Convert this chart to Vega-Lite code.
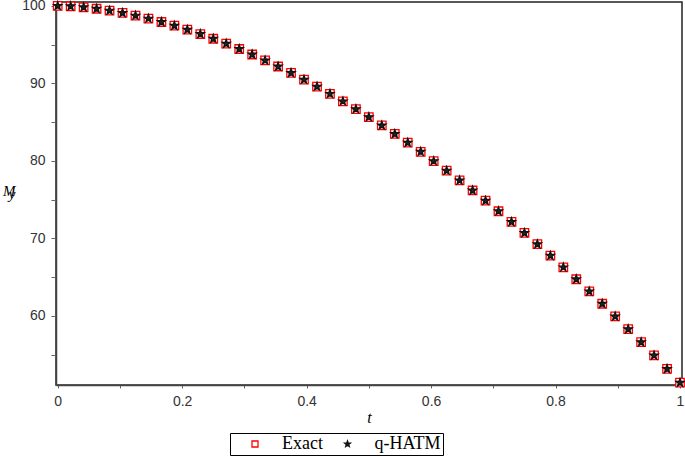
{
  "$schema": "https://vega.github.io/schema/vega-lite/v6.json",
  "width": 626,
  "height": 383,
  "autosize": {"type": "none"},
  "padding": {"left": 56, "top": 2, "right": 3, "bottom": 72},
  "background": "white",
  "config": {
    "view": {"stroke": "#222", "strokeWidth": 1.5},
    "axis": {
      "grid": false,
      "domainColor": "#444",
      "domainWidth": 1.5,
      "tickColor": "#666",
      "tickWidth": 1,
      "labelFont": "Liberation Sans",
      "labelFontSize": 14,
      "labelColor": "#333",
      "labelOverlap": false,
      "labelBound": false,
      "labelFlush": false,
      "titleFont": "Liberation Serif",
      "titleFontStyle": "italic",
      "titleFontWeight": "normal",
      "titleColor": "#000"
    },
    "legend": {
      "direction": "horizontal",
      "strokeColor": "#000",
      "strokeWidth": 1,
      "fillColor": "white",
      "padding": 2,
      "symbolSize": 36,
      "symbolStrokeWidth": 1.3,
      "symbolOffset": 14,
      "labelOffset": 18,
      "labelFont": "Liberation Serif",
      "labelFontSize": 18,
      "labelColor": "#000",
      "columnPadding": 1.5
    }
  },
  "data": {
    "values": [
      {"t": 0, "M": 100, "series": "Exact"},
      {"t": 0.0208, "M": 99.95, "series": "Exact"},
      {"t": 0.0417, "M": 99.82, "series": "Exact"},
      {"t": 0.0625, "M": 99.63, "series": "Exact"},
      {"t": 0.0833, "M": 99.39, "series": "Exact"},
      {"t": 0.1042, "M": 99.09, "series": "Exact"},
      {"t": 0.125, "M": 98.75, "series": "Exact"},
      {"t": 0.1458, "M": 98.36, "series": "Exact"},
      {"t": 0.1667, "M": 97.92, "series": "Exact"},
      {"t": 0.1875, "M": 97.45, "series": "Exact"},
      {"t": 0.2083, "M": 96.93, "series": "Exact"},
      {"t": 0.2292, "M": 96.37, "series": "Exact"},
      {"t": 0.25, "M": 95.76, "series": "Exact"},
      {"t": 0.2708, "M": 95.12, "series": "Exact"},
      {"t": 0.2917, "M": 94.44, "series": "Exact"},
      {"t": 0.3125, "M": 93.73, "series": "Exact"},
      {"t": 0.3333, "M": 92.97, "series": "Exact"},
      {"t": 0.3542, "M": 92.18, "series": "Exact"},
      {"t": 0.375, "M": 91.35, "series": "Exact"},
      {"t": 0.3958, "M": 90.49, "series": "Exact"},
      {"t": 0.4167, "M": 89.59, "series": "Exact"},
      {"t": 0.4375, "M": 88.66, "series": "Exact"},
      {"t": 0.4583, "M": 87.69, "series": "Exact"},
      {"t": 0.4792, "M": 86.69, "series": "Exact"},
      {"t": 0.5, "M": 85.65, "series": "Exact"},
      {"t": 0.5208, "M": 84.58, "series": "Exact"},
      {"t": 0.5417, "M": 83.48, "series": "Exact"},
      {"t": 0.5625, "M": 82.35, "series": "Exact"},
      {"t": 0.5833, "M": 81.18, "series": "Exact"},
      {"t": 0.6042, "M": 79.98, "series": "Exact"},
      {"t": 0.625, "M": 78.75, "series": "Exact"},
      {"t": 0.6458, "M": 77.49, "series": "Exact"},
      {"t": 0.6667, "M": 76.19, "series": "Exact"},
      {"t": 0.6875, "M": 74.87, "series": "Exact"},
      {"t": 0.7083, "M": 73.51, "series": "Exact"},
      {"t": 0.7292, "M": 72.13, "series": "Exact"},
      {"t": 0.75, "M": 70.71, "series": "Exact"},
      {"t": 0.7708, "M": 69.26, "series": "Exact"},
      {"t": 0.7917, "M": 67.78, "series": "Exact"},
      {"t": 0.8125, "M": 66.28, "series": "Exact"},
      {"t": 0.8333, "M": 64.74, "series": "Exact"},
      {"t": 0.8542, "M": 63.17, "series": "Exact"},
      {"t": 0.875, "M": 61.58, "series": "Exact"},
      {"t": 0.8958, "M": 59.95, "series": "Exact"},
      {"t": 0.9167, "M": 58.3, "series": "Exact"},
      {"t": 0.9375, "M": 56.62, "series": "Exact"},
      {"t": 0.9583, "M": 54.91, "series": "Exact"},
      {"t": 0.9792, "M": 53.17, "series": "Exact"},
      {"t": 1, "M": 51.4, "series": "Exact"},
      {"t": 0, "M": 100, "series": "q-HATM"},
      {"t": 0.0208, "M": 99.95, "series": "q-HATM"},
      {"t": 0.0417, "M": 99.82, "series": "q-HATM"},
      {"t": 0.0625, "M": 99.63, "series": "q-HATM"},
      {"t": 0.0833, "M": 99.39, "series": "q-HATM"},
      {"t": 0.1042, "M": 99.09, "series": "q-HATM"},
      {"t": 0.125, "M": 98.75, "series": "q-HATM"},
      {"t": 0.1458, "M": 98.36, "series": "q-HATM"},
      {"t": 0.1667, "M": 97.92, "series": "q-HATM"},
      {"t": 0.1875, "M": 97.45, "series": "q-HATM"},
      {"t": 0.2083, "M": 96.93, "series": "q-HATM"},
      {"t": 0.2292, "M": 96.37, "series": "q-HATM"},
      {"t": 0.25, "M": 95.76, "series": "q-HATM"},
      {"t": 0.2708, "M": 95.12, "series": "q-HATM"},
      {"t": 0.2917, "M": 94.44, "series": "q-HATM"},
      {"t": 0.3125, "M": 93.73, "series": "q-HATM"},
      {"t": 0.3333, "M": 92.97, "series": "q-HATM"},
      {"t": 0.3542, "M": 92.18, "series": "q-HATM"},
      {"t": 0.375, "M": 91.35, "series": "q-HATM"},
      {"t": 0.3958, "M": 90.49, "series": "q-HATM"},
      {"t": 0.4167, "M": 89.59, "series": "q-HATM"},
      {"t": 0.4375, "M": 88.66, "series": "q-HATM"},
      {"t": 0.4583, "M": 87.69, "series": "q-HATM"},
      {"t": 0.4792, "M": 86.69, "series": "q-HATM"},
      {"t": 0.5, "M": 85.65, "series": "q-HATM"},
      {"t": 0.5208, "M": 84.58, "series": "q-HATM"},
      {"t": 0.5417, "M": 83.48, "series": "q-HATM"},
      {"t": 0.5625, "M": 82.35, "series": "q-HATM"},
      {"t": 0.5833, "M": 81.18, "series": "q-HATM"},
      {"t": 0.6042, "M": 79.98, "series": "q-HATM"},
      {"t": 0.625, "M": 78.75, "series": "q-HATM"},
      {"t": 0.6458, "M": 77.49, "series": "q-HATM"},
      {"t": 0.6667, "M": 76.19, "series": "q-HATM"},
      {"t": 0.6875, "M": 74.87, "series": "q-HATM"},
      {"t": 0.7083, "M": 73.51, "series": "q-HATM"},
      {"t": 0.7292, "M": 72.13, "series": "q-HATM"},
      {"t": 0.75, "M": 70.71, "series": "q-HATM"},
      {"t": 0.7708, "M": 69.26, "series": "q-HATM"},
      {"t": 0.7917, "M": 67.78, "series": "q-HATM"},
      {"t": 0.8125, "M": 66.28, "series": "q-HATM"},
      {"t": 0.8333, "M": 64.74, "series": "q-HATM"},
      {"t": 0.8542, "M": 63.17, "series": "q-HATM"},
      {"t": 0.875, "M": 61.58, "series": "q-HATM"},
      {"t": 0.8958, "M": 59.95, "series": "q-HATM"},
      {"t": 0.9167, "M": 58.3, "series": "q-HATM"},
      {"t": 0.9375, "M": 56.62, "series": "q-HATM"},
      {"t": 0.9583, "M": 54.91, "series": "q-HATM"},
      {"t": 0.9792, "M": 53.17, "series": "q-HATM"},
      {"t": 1, "M": 51.4, "series": "q-HATM"}
    ]
  },
  "mark": {"type": "point", "size": 72, "strokeWidth": 1.3, "opacity": 1, "fillOpacity": 1},
  "encoding": {
    "x": {
      "field": "t",
      "type": "quantitative",
      "scale": {"domain": [-0.0027, 1.0032], "nice": false, "zero": false},
      "axis": {
        "values": [0, 0.1, 0.2, 0.3, 0.4, 0.5, 0.6, 0.7, 0.8, 0.9, 1],
        "format": "~g",
        "labelExpr": "abs(datum.value * 5 - round(datum.value * 5)) < 0.01 ? datum.label : ''",
        "tickSize": 3,
        "labelPadding": 6,
        "title": "t",
        "titleFontSize": 16,
        "titleY": 37,
        "titleBaseline": "alphabetic"
      }
    },
    "y": {
      "field": "M",
      "type": "quantitative",
      "scale": {"domain": [51.1, 100.5], "nice": false, "zero": false},
      "axis": {
        "values": [55, 60, 65, 70, 75, 80, 85, 90, 95, 100],
        "labelExpr": "datum.value % 10 == 0 ? datum.label : ''",
        "tickSize": 5,
        "labelPadding": 6,
        "title": ["M", "y"],
        "titleFontSize": 15,
        "titleAngle": 0,
        "titleAlign": "right",
        "titleBaseline": "alphabetic",
        "titleLineHeight": 3,
        "titleX": -41,
        "titleY": 193
      }
    },
    "shape": {
      "field": "series",
      "type": "nominal",
      "scale": {"domain": ["Exact", "q-HATM"], "range": ["square", "M0,-1L0.24,-0.33L0.95,-0.31L0.39,0.13L0.59,0.81L0,0.41L-0.59,0.81L-0.39,0.13L-0.95,-0.31L-0.24,-0.33Z"]},
      "legend": {"title": null, "orient": "none", "legendX": 174, "legendY": 431}
    },
    "stroke": {
      "field": "series",
      "type": "nominal",
      "scale": {"domain": ["Exact", "q-HATM"], "range": ["#ff0000", "#111111"]},
      "legend": {"title": null, "orient": "none", "legendX": 174, "legendY": 431}
    },
    "fill": {
      "field": "series",
      "type": "nominal",
      "scale": {"domain": ["Exact", "q-HATM"], "range": ["#ffffff", "#222222"]},
      "legend": {"title": null, "orient": "none", "legendX": 174, "legendY": 431}
    }
  }
}
